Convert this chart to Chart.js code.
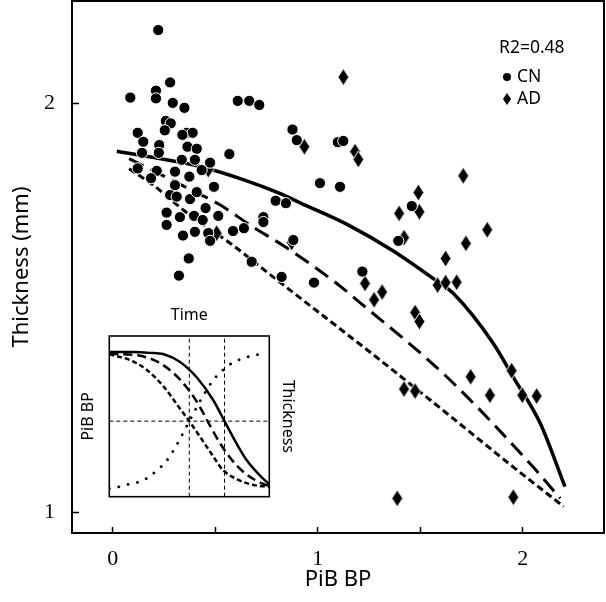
<!DOCTYPE html>
<html><head><meta charset="utf-8">
<script src="https://cdn.jsdelivr.net/npm/chart.js@4/dist/chart.umd.min.js"></script>
<style>
html,body{margin:0;padding:0;background:#fff;}
#wrap{position:relative;width:606px;height:602px;overflow:hidden;}
#main{position:absolute;left:0;top:0;}
#inset{position:absolute;left:60px;top:290px;pointer-events:none;}
</style></head><body>
<div id="wrap">
<canvas id="main" width="606" height="602"></canvas>
<canvas id="inset" width="250" height="215"></canvas>
</div>
<script>
// ---------- data: main plot ----------
const cnX = [0.222,0.086,0.211,0.211,0.280,0.293,0.350,0.610,0.666,0.715,0.259,0.283,0.254,0.122,0.149,0.227,0.225,0.143,0.361,0.390,
             0.340,0.365,0.410,0.569,0.337,0.401,0.122,0.215,0.304,0.374,0.475,0.434,0.187,0.304,0.494,0.280,0.312,0.377,0.410,0.795,
             0.845,0.263,0.328,0.397,0.453,0.439,0.515,0.735,0.735,0.263,0.343,0.401,0.466,0.475,0.587,0.640,0.371,0.678,0.323,0.824,
             0.877,0.898,1.098,1.125,1.011,1.109,1.459,1.393,0.881,1.218,0.982];
const cnY = [2.179,2.014,2.031,2.012,2.051,2.001,1.989,2.006,2.006,1.996,1.957,1.951,1.934,1.928,1.906,1.898,1.879,1.879,1.928,1.928,
             1.923,1.894,1.889,1.876,1.862,1.862,1.841,1.835,1.833,1.821,1.855,1.837,1.817,1.800,1.796,1.776,1.772,1.766,1.783,1.762,
             1.756,1.733,1.722,1.725,1.744,1.715,1.725,1.722,1.710,1.703,1.677,1.686,1.683,1.664,1.688,1.695,1.621,1.613,1.579,1.576,
             1.936,1.910,1.905,1.908,1.805,1.796,1.749,1.664,1.666,1.589,1.562];
const adX = [0.466,0.507,0.873,1.125,0.935,1.182,1.198,1.491,1.397,1.496,1.710,1.827,1.723,1.421,1.624,1.231,1.314,1.275,1.585,1.624,
             1.678,1.475,1.496,1.746,1.421,1.475,1.840,1.946,1.998,2.068,1.388,1.954];
const adY = [1.838,1.683,1.660,2.064,1.894,1.882,1.863,1.782,1.731,1.735,1.823,1.691,1.658,1.672,1.621,1.560,1.539,1.520,1.556,1.562,
             1.563,1.489,1.467,1.332,1.302,1.297,1.287,1.347,1.287,1.285,1.035,1.038];
const solidX = [0.02,0.43,0.64,0.815,0.914,1.141,1.367,1.597,1.661,1.856,1.953,2.085,2.206];
const solidY = [1.883,1.845,1.813,1.780,1.757,1.705,1.640,1.560,1.536,1.414,1.332,1.219,1.0635];
const longX  = [0.08,0.353,0.523,0.678,0.849,1.093,1.19,1.629,2.05,2.183];
const longY  = [1.865,1.796,1.752,1.700,1.647,1.560,1.520,1.332,1.112,1.035];
const shortX = [0.08,0.198,0.343,0.466,0.563,0.782,1.304,1.629,1.953,2.2];
const shortY = [1.84,1.80,1.74,1.695,1.662,1.576,1.373,1.243,1.112,1.015];
const xTicks = [0,0.5,1,1.5,2];
const xTickLabels = ['0','','1','','2'];
const yTicks = [1,2];
const yTickLabels = ['1','2'];
const seriesNames = ['CN','AD'];
const legendTitle = 'R2=0.48';
const xTitle = 'PiB BP';
const yTitle = 'Thickness (mm)';

// ---------- data: inset ----------
const inSolidT = [0,0.15,0.25,0.34,0.44,0.546,0.65,0.72,0.796,0.858,0.94,1.0];
const inSolidV = [0.90,0.90,0.895,0.886,0.84,0.743,0.60,0.47,0.33,0.228,0.133,0.077];
const inLongT  = [0,0.2,0.3,0.4,0.5,0.56,0.62,0.7,0.8,0.9,1.0];
const inLongV  = [0.89,0.875,0.84,0.77,0.66,0.57,0.46,0.32,0.19,0.11,0.065];
const inShortT = [0,0.13,0.233,0.34,0.44,0.5,0.567,0.65,0.71,0.8,0.9,1.0];
const inShortV = [0.886,0.85,0.79,0.685,0.55,0.47,0.373,0.25,0.166,0.108,0.073,0.062];
const inDotT   = [0,0.0625,0.125,0.19,0.25,0.30,0.354,0.42,0.5,0.577,0.65,0.70,0.75,0.806,0.869,0.9375];
const inDotV   = [0.05,0.062,0.079,0.093,0.124,0.166,0.218,0.32,0.47,0.612,0.726,0.778,0.82,0.85,0.871,0.886];
const inGuideT = [0.5,0.72];
const inGuideV = [0.47];
const inTitles = ['Time','PiB BP','Thickness'];

const pts = (xs, ys) => xs.map((x, i) => ({x: x, y: ys[i]}));

// diamond marker
function makeDiamond(w, h, outline) {
  const c = document.createElement('canvas');
  c.width = w + 2; c.height = h + 2;
  const g = c.getContext('2d');
  g.beginPath();
  g.moveTo(c.width/2, 1); g.lineTo(c.width - 1, c.height/2);
  g.lineTo(c.width/2, c.height - 1); g.lineTo(1, c.height/2); g.closePath();
  g.fillStyle = '#000'; g.fill();
  if (outline) { g.strokeStyle = '#fff'; g.lineWidth = 1; g.stroke(); }
  return c;
}
const diamond = makeDiamond(11, 17, true);
const diamondSmall = makeDiamond(8, 12, false);

const framePlugin = {
  id: 'frame',
  afterDraw(chart, args, opts) {
    const a = chart.chartArea, ctx = chart.ctx;
    ctx.save();
    ctx.strokeStyle = '#000'; ctx.lineWidth = opts.width || 2;
    ctx.strokeRect(a.left, a.top, a.right - a.left, a.bottom - a.top);
    ctx.restore();
  }
};

const legendPlugin = {
  id: 'cornerLegend',
  afterDraw(chart) {
    const ctx = chart.ctx;
    ctx.save();
    ctx.fillStyle = '#000';
    ctx.font = '17.5px "Noto Sans"';
    ctx.textBaseline = 'middle';
    ctx.textAlign = 'left';
    ctx.fillText(legendTitle, 499, 48);
    ctx.beginPath(); ctx.arc(507, 77, 4, 0, Math.PI*2); ctx.fill();
    ctx.fillText(seriesNames[0], 517, 77);
    ctx.drawImage(diamondSmall, 507 - diamondSmall.width/2, 99 - diamondSmall.height/2);
    ctx.fillText(seriesNames[1], 517, 99);
    ctx.restore();
  }
};

const noPad = s => { s.paddingTop = 0; s.paddingBottom = 0; s.paddingLeft = 0; s.paddingRight = 0; };

Chart.defaults.font.family = '"Noto Sans", sans-serif';
Chart.defaults.color = '#000';

new Chart(document.getElementById('main'), {
  type: 'scatter',
  data: {
    datasets: [
      { label: seriesNames[0], data: pts(cnX, cnY), pointStyle: 'circle', pointRadius: 5.6,
        backgroundColor: '#000', borderColor: '#fff', borderWidth: 1, order: 1 },
      { label: seriesNames[1], data: pts(adX, adY), pointStyle: diamond, pointRadius: 6,
        backgroundColor: '#000', borderColor: '#fff', borderWidth: 1, order: 2 },
      { type: 'line', label: 'fit', data: pts(solidX, solidY), borderColor: '#000', borderWidth: 3.5,
        pointRadius: 0, cubicInterpolationMode: 'monotone', fill: false, order: 3 },
      { type: 'line', label: 'fit2', data: pts(longX, longY), borderColor: '#000', borderWidth: 3,
        borderDash: [16, 8], pointRadius: 0, cubicInterpolationMode: 'monotone', fill: false, order: 4 },
      { type: 'line', label: 'fit3', data: pts(shortX, shortY), borderColor: '#000', borderWidth: 3,
        borderDash: [7, 4], pointRadius: 0, cubicInterpolationMode: 'monotone', fill: false, order: 5 }
    ]
  },
  options: {
    responsive: false, animation: false,
    layout: { autoPadding: false, padding: { top: 1, right: 2, left: 0, bottom: 0 } },
    plugins: { legend: { display: false }, tooltip: { enabled: false }, frame: { width: 2 } },
    scales: {
      x: {
        type: 'linear', position: 'bottom', min: -0.1985, max: 2.3966,
        afterBuildTicks: s => { s.ticks = xTicks.map(v => ({ value: v })); },
        afterFit: s => { s.height = 69; noPad(s); },
        ticks: { callback: (v, i) => xTickLabels[i], autoSkip: false, maxRotation: 0,
                 font: { family: '"Liberation Serif", serif', size: 22 }, color: '#000', padding: 19 },
        grid: { display: true, drawOnChartArea: false, drawTicks: true, tickLength: -6, tickWidth: 1.5, tickColor: '#000' },
        border: { display: false },
        title: { display: true, text: xTitle, font: { size: 22 }, color: '#000', padding: { top: 0, bottom: 9 } }
      },
      y: {
        type: 'linear', position: 'left', min: 0.9504, max: 2.2499,
        afterBuildTicks: s => { s.ticks = yTicks.map(v => ({ value: v })); },
        afterFit: s => { s.width = 72; noPad(s); },
        ticks: { callback: (v, i) => yTickLabels[i], autoSkip: false,
                 font: { family: '"Liberation Serif", serif', size: 22 }, color: '#000', padding: 24 },
        grid: { display: true, drawOnChartArea: false, drawTicks: true, tickLength: -7, tickWidth: 1.5, tickColor: '#000' },
        border: { display: false },
        title: { display: true, text: yTitle, font: { size: 22 }, color: '#000', padding: { top: 9, bottom: 0 } }
      }
    }
  },
  plugins: [framePlugin, legendPlugin]
});

// ---------- inset ----------
const guideStyle = { borderColor: '#000', borderWidth: 1, borderDash: [4, 3], pointRadius: 0, fill: false };
const insetSets = [
  { data: pts(inSolidT, inSolidV), borderColor: '#000', borderWidth: 2.5, pointRadius: 0,
    cubicInterpolationMode: 'monotone', fill: false },
  { data: pts(inLongT, inLongV), borderColor: '#000', borderWidth: 2.5, borderDash: [9, 5], pointRadius: 0,
    cubicInterpolationMode: 'monotone', fill: false },
  { data: pts(inShortT, inShortV), borderColor: '#000', borderWidth: 2.5, borderDash: [5, 3], pointRadius: 0,
    cubicInterpolationMode: 'monotone', fill: false },
  { data: pts(inDotT, inDotV), borderColor: '#000', borderWidth: 2.8, borderDash: [0.1, 9.5],
    borderCapStyle: 'round', pointRadius: 0, cubicInterpolationMode: 'monotone', fill: false }
];
inGuideT.forEach(t => insetSets.push(Object.assign({ data: [{x: t, y: 0}, {x: t, y: 1}] }, guideStyle)));
inGuideV.forEach(v => insetSets.push(Object.assign({ data: [{x: 0, y: v}, {x: 1, y: v}] }, guideStyle)));

const hidden = { display: false };
new Chart(document.getElementById('inset'), {
  type: 'line',
  data: { datasets: insetSets },
  options: {
    responsive: false, animation: false,
    layout: { autoPadding: false, padding: 0 },
    plugins: { legend: { display: false }, tooltip: { enabled: false }, frame: { width: 1.6 } },
    scales: {
      x: { type: 'linear', position: 'bottom', min: 0, max: 1,
           ticks: hidden, grid: { display: false, drawTicks: false }, border: hidden,
           afterFit: s => { s.height = 8.3; } },
      x2: { type: 'linear', position: 'top', min: 0, max: 1,
           ticks: hidden, grid: { display: false, drawTicks: false }, border: hidden,
           title: { display: true, text: inTitles[0], font: { size: 16 }, color: '#000', padding: { top: 15.4, bottom: 0 } },
           afterFit: s => { s.height = 46; } },
      y: { type: 'linear', position: 'left', min: 0, max: 1,
           ticks: hidden, grid: { display: false, drawTicks: false }, border: hidden,
           title: { display: true, text: inTitles[1], font: { size: 16 }, color: '#000', padding: { top: 18.4, bottom: 0 } },
           afterFit: s => { s.width = 49.3; } },
      y2: { type: 'linear', position: 'right', min: 0, max: 1,
           ticks: hidden, grid: { display: false, drawTicks: false }, border: hidden,
           title: { display: true, text: inTitles[2], font: { size: 16 }, color: '#000', padding: { top: 12.4, bottom: 0 } },
           afterFit: s => { s.width = 40.7; } }
    }
  },
  plugins: [framePlugin]
});
</script>
</body></html>
